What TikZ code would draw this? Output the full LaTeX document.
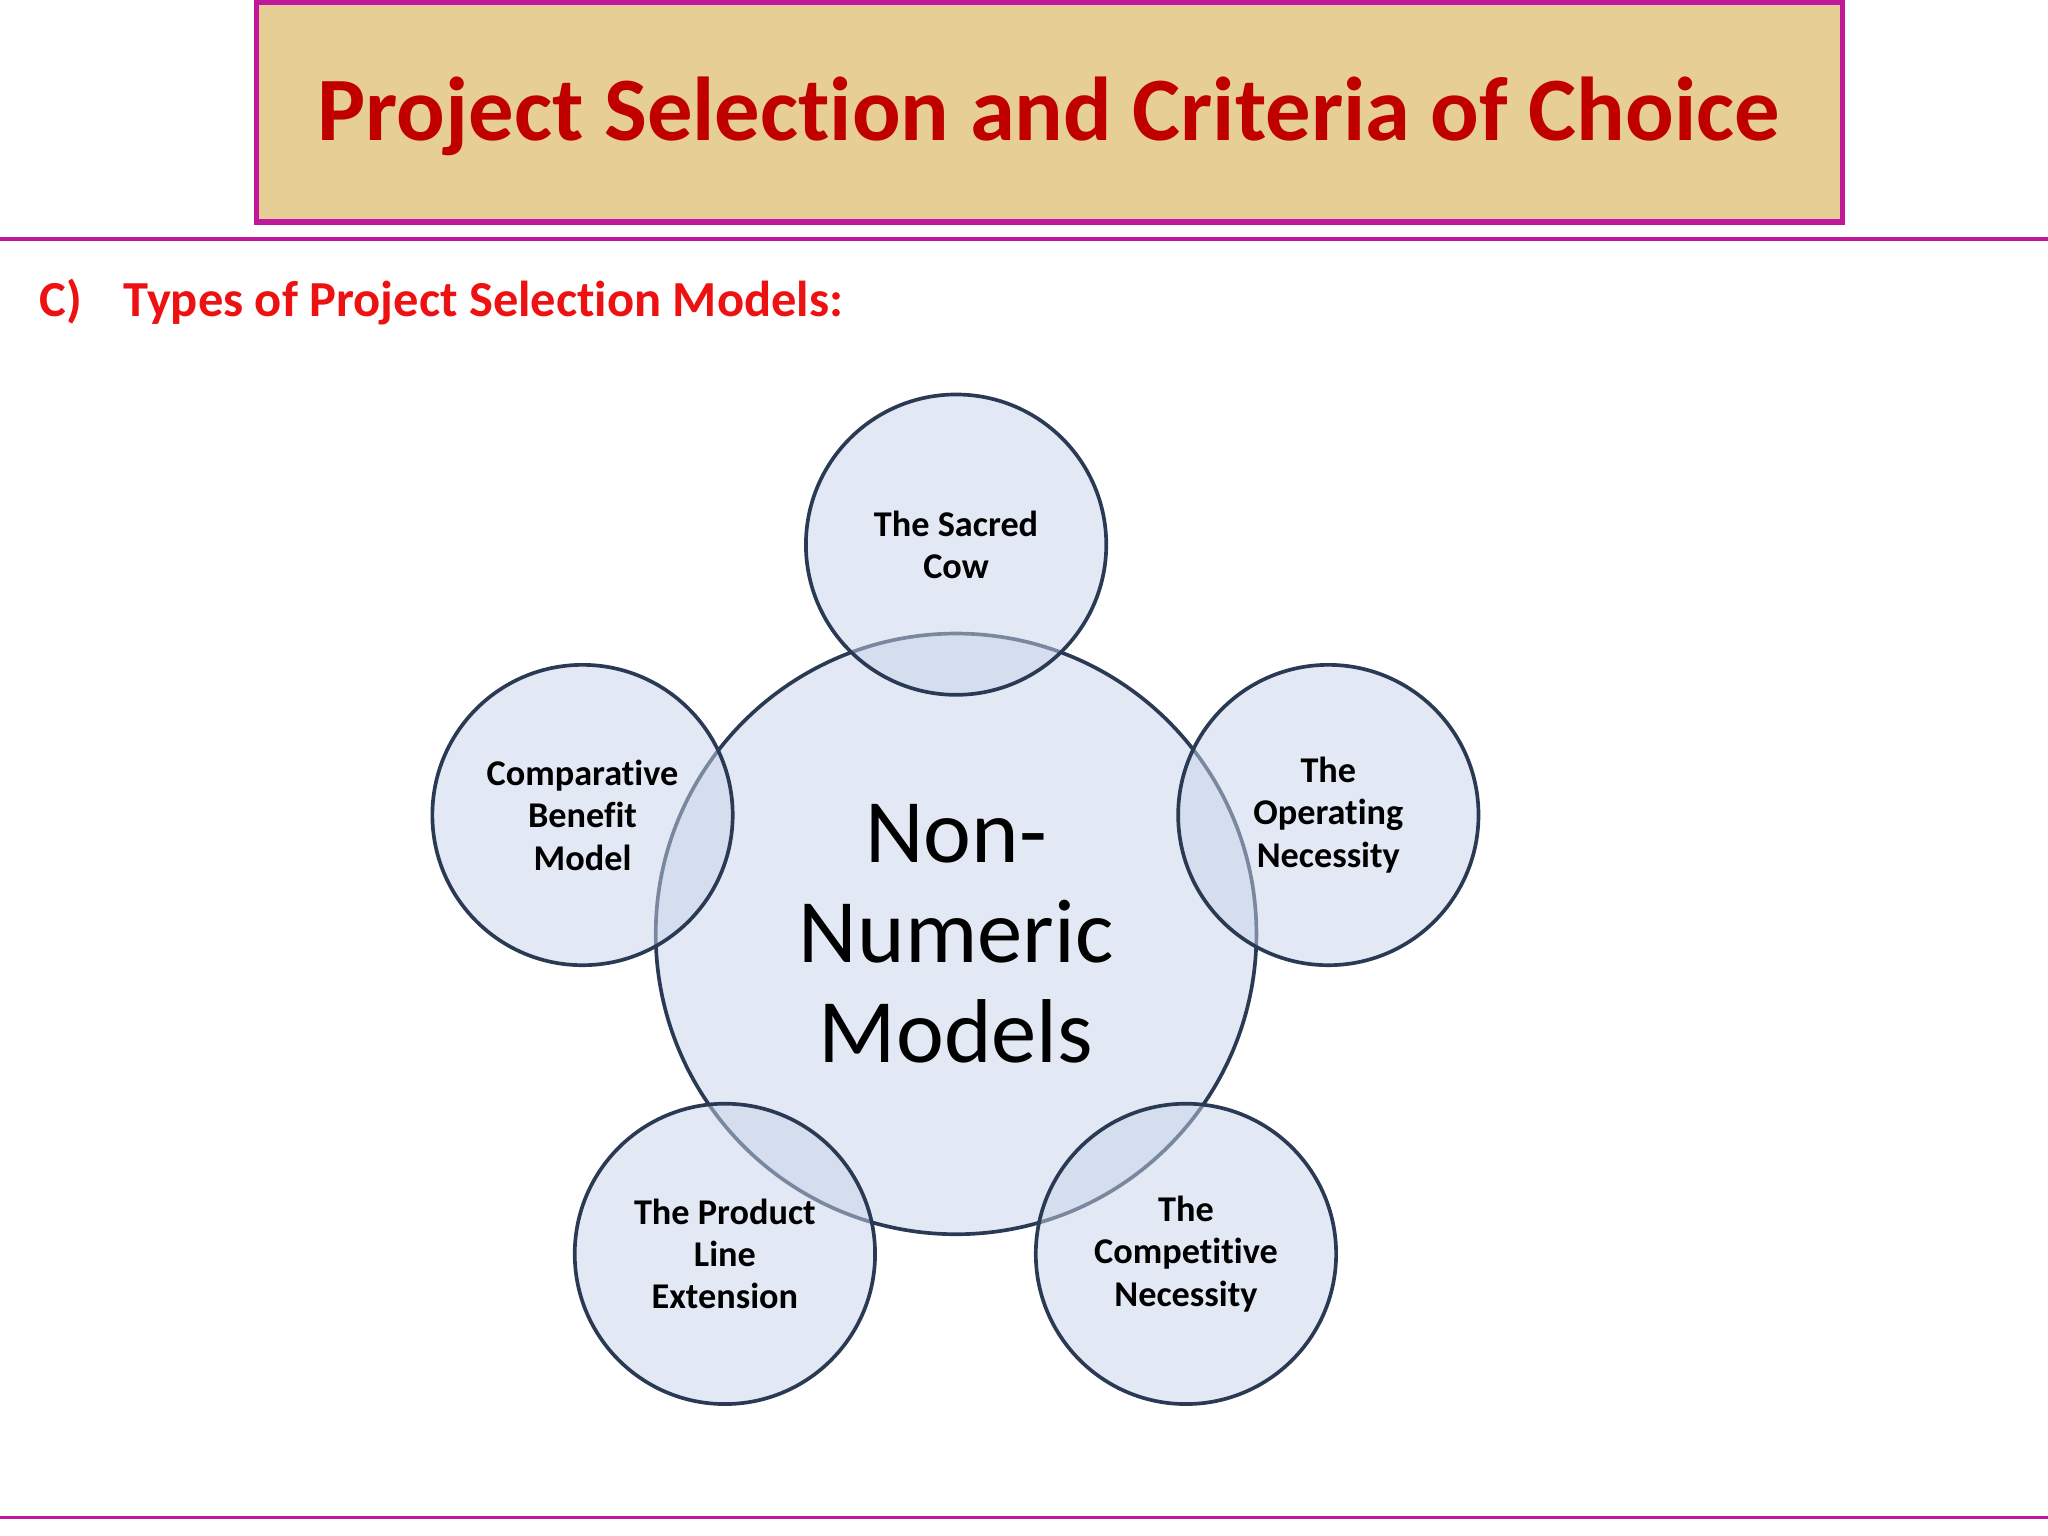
\documentclass[tikz,border=0pt]{standalone}
\usepackage{fontspec}
\setmainfont[Ligatures=NoCommon]{Carlito}
\definecolor{mag}{HTML}{C0189A}
\definecolor{tan}{HTML}{E6CE94}
\definecolor{ttl}{HTML}{C00000}
\definecolor{sub}{HTML}{EE1111}
\definecolor{bub}{HTML}{C9D5EA}
\definecolor{edge}{HTML}{2A3A55}
\tikzset{
  bubble/.style={circle,draw=edge,line width=1.6pt,fill=bub,fill opacity=0.5,text opacity=1,align=center,inner sep=0pt},
  small/.style={bubble,minimum size=4.6cm,font=\fontsize{15.8}{18.5}\selectfont\bfseries},
}
\begin{document}
\begin{tikzpicture}[x=0.02cm,y=-0.02cm]
\useasboundingbox (0,0) rectangle (1568,1176);
\fill[white] (0,0) rectangle (1568,1176);
\node[draw=mag,line width=2.2pt,fill=tan,minimum width=24.3cm,minimum height=3.36cm] (title) at (803.5,86) {};
\node[text=ttl,font=\fontsize{39.5}{46}\selectfont\bfseries] (tt) at (803,89) {Project Selection and Criteria of Choice};
\draw[mag,line width=1.5pt] (0,183) -- (1568,183);
\draw[mag,line width=1.5pt] (0,1162) -- (1568,1162);
\node[anchor=west,text=sub,font=\fontsize{22}{26}\selectfont\bfseries] (st) at (24,231) {C)\hspace{0.6em} Types of Project Selection Models:};
\node[bubble,minimum size=9.2cm,font=\fontsize{39.5}{43.5}\selectfont] (c) at (732,715) {Non-\\Numeric\\Models};
\node[small] (t) at (732,417) {The Sacred\\Cow};
\node[small] (l) at (446,624) {Comparative\\Benefit\\Model};
\node[small] (r) at (1017,624) {The\\Operating\\Necessity};
\node[small] (bl) at (555,960) {The Product\\Line\\Extension};
\node[small] (br) at (908,960) {The\\Competitive\\Necessity};
\end{tikzpicture}
\end{document}
